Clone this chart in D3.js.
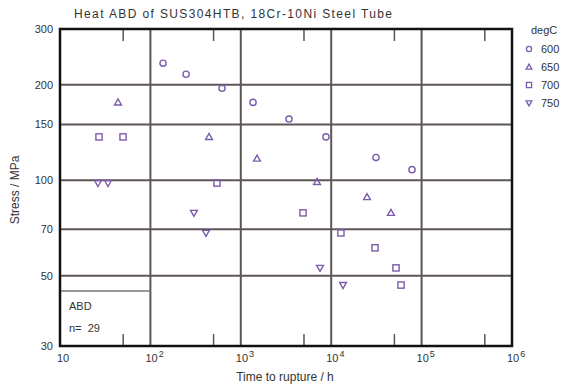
<!DOCTYPE html>
<html>
<head>
<meta charset="utf-8">
<script src="https://cdn.jsdelivr.net/npm/d3@7"></script>
<style>
  body { margin: 0; background: #fff; }
  svg text { font-family: "Liberation Sans", Arial, sans-serif; fill: #333; }
</style>
</head>
<body>
<div id="chart"></div>
<script>
// temperatures (degC) and their symbols
let temps = ['600', '650', '700', '750']
let symbols = ['circle', 'triangle', 'square', 'down']

// time to rupture (h) and stress (MPa)
let hours600 = [138, 248, 620, 1365, 3414, 8750, 31300, 78300]
let stress600 = [234, 216, 195, 176, 156, 137, 118, 108]
let hours650 = [43.8, 445, 1510, 6970, 24900, 45800]
let stress650 = [176, 137, 117, 98.8, 88.5, 78.9]
let hours700 = [27, 49.8, 545, 4880, 12800, 30500, 52100, 59200]
let stress700 = [137, 137, 98, 78.9, 68.2, 61.2, 52.9, 46.7]
let hours750 = [26.3, 34, 303, 412, 7520, 13500]
let stress750 = [98, 98, 78.9, 68.2, 52.9, 46.7]

let yTicks = [30, 50, 70, 100, 150, 200, 300]
let yGrid = [50, 70, 100, 150, 200]
let xDecades = [1, 2, 3, 4, 5, 6]
let xMinor = [50, 500, 5000, 50000, 500000]

let title = 'Heat ABD of SUS304HTB, 18Cr-10Ni Steel Tube'
let heatName = 'ABD'
let nCount = 29

let series = [
    { hours: hours600, stress: stress600 },
    { hours: hours650, stress: stress650 },
    { hours: hours700, stress: stress700 },
    { hours: hours750, stress: stress750 }
]

let W = 569, H = 389
let margin = { left: 60, top: 29, right: 57, bottom: 43 }
let x = d3.scaleLog().domain([10, 1e6]).range([margin.left, W - margin.right])
let y = d3.scaleLog().domain([30, 300]).range([H - margin.bottom, margin.top])

let svg = d3.select('#chart').append('svg')
    .attr('width', W)
    .attr('height', H)

let plotColor = '#7b5cab'
let gridColor = '#5e5656'

// grid lines
svg.append('g').selectAll('line.h')
    .data(yGrid).enter().append('line')
    .attr('x1', x(10)).attr('x2', x(1e6))
    .attr('y1', d => y(d)).attr('y2', d => y(d))
    .attr('stroke', gridColor).attr('stroke-width', 2)
svg.append('g').selectAll('line.v')
    .data(xDecades.slice(1, 5)).enter().append('line')
    .attr('x1', d => x(Math.pow(10, d))).attr('x2', d => x(Math.pow(10, d)))
    .attr('y1', y(30)).attr('y2', y(300))
    .attr('stroke', gridColor).attr('stroke-width', 2)

// minor ticks at top and bottom
svg.append('g').selectAll('line')
    .data(xMinor).enter().append('line')
    .attr('x1', d => x(d)).attr('x2', d => x(d))
    .attr('y1', y(300)).attr('y2', y(300) + 12)
    .attr('stroke', gridColor).attr('stroke-width', 1.5)
svg.append('g').selectAll('line')
    .data(xMinor).enter().append('line')
    .attr('x1', d => x(d)).attr('x2', d => x(d))
    .attr('y1', y(30)).attr('y2', y(30) - 12)
    .attr('stroke', gridColor).attr('stroke-width', 1.5)

// heat box
svg.append('line')
    .attr('x1', x(10)).attr('x2', x(100))
    .attr('y1', 291).attr('y2', 291)
    .attr('stroke', '#777').attr('stroke-width', 1.5)
svg.append('text').attr('x', 69).attr('y', 310)
    .attr('font-size', 11).text(heatName)
svg.append('text').attr('x', 69).attr('y', 332)
    .attr('font-size', 11).attr('xml:space', 'preserve').text('n=  ' + nCount)

// frame
svg.append('rect')
    .attr('x', x(10)).attr('y', y(300))
    .attr('width', x(1e6) - x(10)).attr('height', y(30) - y(300))
    .attr('fill', 'none').attr('stroke', '#111').attr('stroke-width', 2.5)

// y tick labels
svg.append('g').selectAll('text')
    .data(yTicks).enter().append('text')
    .attr('x', 53).attr('y', d => y(d) + 4)
    .attr('text-anchor', 'end').attr('font-size', 11)
    .text(d => d)

// x tick labels
let xl = svg.append('g').selectAll('text')
    .data(xDecades).enter().append('text')
    .attr('x', d => x(Math.pow(10, d)) - (d === 1 ? 3 : 5))
    .attr('y', 362).attr('font-size', 11)
xl.append('tspan').text('10')
xl.filter(d => d > 1).append('tspan')
    .attr('dy', -5).attr('dx', 1).attr('font-size', 9)
    .text(d => d)

// axis labels and title
svg.append('text').attr('x', 285).attr('y', 381)
    .attr('text-anchor', 'middle').attr('font-size', 12)
    .text('Time to rupture / h')
svg.append('text')
    .attr('transform', 'translate(19,190) rotate(-90)')
    .attr('text-anchor', 'middle').attr('font-size', 12)
    .text('Stress / MPa')
svg.append('text').attr('x', 74).attr('y', 18)
    .attr('font-size', 12).attr('textLength', 318)
    .text(title)

// symbol drawing
function drawSymbol (g, kind, cx, cy, sz) {
    if (kind === 'circle') {
        g.append('circle').attr('cx', cx).attr('cy', cy).attr('r', sz)
    } else if (kind === 'square') {
        g.append('rect').attr('x', cx - sz).attr('y', cy - sz)
            .attr('width', 2 * sz).attr('height', 2 * sz)
    } else {
        let s = kind === 'triangle' ? 1 : -1
        g.append('path').attr('d', 'M' + cx + ',' + (cy - 3.6 * s * sz / 3.2) +
            'L' + (cx + sz * 1.1) + ',' + (cy + 2.6 * s * sz / 3.2) +
            'L' + (cx - sz * 1.1) + ',' + (cy + 2.6 * s * sz / 3.2) + 'Z')
    }
}

// data points
series.forEach(function (sr, i) {
    let g = svg.append('g')
        .attr('fill', 'none').attr('stroke', plotColor).attr('stroke-width', 1.4)
    sr.hours.forEach(function (h, k) {
        drawSymbol(g, symbols[i], x(h), y(sr.stress[k]), 3.1)
    })
})

// legend
svg.append('text').attr('x', 531).attr('y', 34)
    .attr('font-size', 11).text('degC')
temps.forEach(function (t, i) {
    let ly = 49 + i * 18
    let g = svg.append('g')
        .attr('fill', 'none').attr('stroke', plotColor).attr('stroke-width', 1.3)
    drawSymbol(g, symbols[i], 529, ly, 2.6)
    svg.append('text').attr('x', 541).attr('y', ly + 4)
        .attr('font-size', 11).text(t)
})
</script>
</body>
</html>
